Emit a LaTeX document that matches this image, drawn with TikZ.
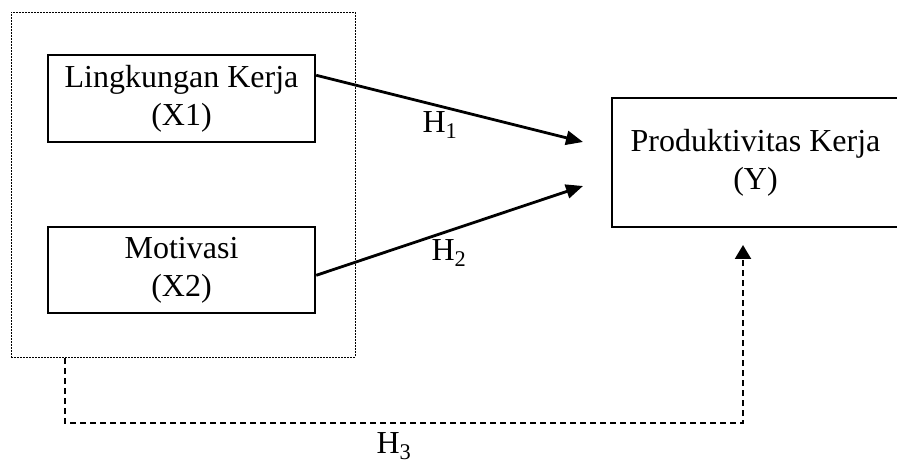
\documentclass[tikz,border=0pt]{standalone}
\usepackage{fontspec}
\setmainfont{Liberation Serif}
\usetikzlibrary{arrows.meta,calc}
\begin{document}
\begin{tikzpicture}[x=1pt,y=-1pt,
  every node/.style={font=\fontsize{32}{38}\selectfont},
  varbox/.style={draw, line width=2.4pt, align=center, inner sep=0pt},
  grpbox/.style={draw, line width=0.9pt, dash pattern=on 2pt off 1pt, inner sep=0pt},
  effect/.style={line width=2.8pt, -{Triangle[length=17pt,width=14pt]}},
  joint/.style={line width=2.2pt, dash pattern=on 6pt off 4pt, -{Triangle[length=14pt,width=16pt]}},
  hlabel/.style={inner sep=0pt}]
\useasboundingbox (0,0) rectangle (897,465);
\node[grpbox, minimum width=344pt, minimum height=345pt] (grp) at (183,184.5) {};
\node[varbox, minimum width=267pt, minimum height=87pt] (x1) at (181.5,98.5) {Lingkungan Kerja\\(X1)};
\node[varbox, minimum width=267pt, minimum height=86pt] (x2) at (181.5,270) {Motivasi\\(X2)};
\node[varbox, minimum width=287pt, minimum height=129pt] (y) at (755.5,162.5) {Produktivitas Kerja\\(Y)};
\coordinate (s1) at ($(x1.north east)!0.24!(x1.south east)$);
\coordinate (s2) at ($(x2.north east)!0.56!(x2.south east)$);
\coordinate (t1) at (583,142);
\coordinate (t2) at (583,186);
\draw[effect] (s1) -- (t1);
\draw[effect] (s2) -- (t2);
\node[hlabel] (h1) at (440,125) {H\textsubscript{1}};
\node[hlabel] (h2) at (449,253) {H\textsubscript{2}};
\coordinate (d0) at (65,358);
\coordinate (d1) at (65,423);
\coordinate (d2) at (743,423);
\coordinate (d3) at (743,245);
\draw[joint] (d0) -- (d1) -- (d2) -- (d3);
\node[hlabel] (h3) at (394,446) {H\textsubscript{3}};
\end{tikzpicture}
\end{document}
